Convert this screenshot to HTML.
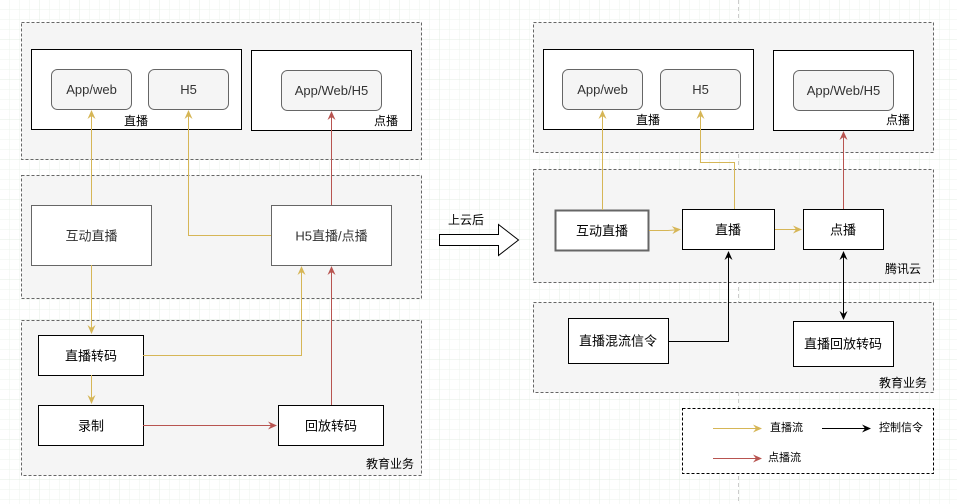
<!DOCTYPE html>
<html><head><meta charset="utf-8"><style>
html,body{margin:0;padding:0;background:#fff;}
svg{display:block;font-family:"Liberation Sans","Noto Sans CJK SC",sans-serif;}
</style></head><body>
<svg width="957" height="504" viewBox="0 0 957 504" xmlns="http://www.w3.org/2000/svg">
<defs>
<pattern id="g" width="10" height="10" patternUnits="userSpaceOnUse"><path d="M10 0V10M0 10H10" fill="none" stroke="#eef3ee" stroke-width="1"/></pattern>
<pattern id="G" width="40" height="40" patternUnits="userSpaceOnUse"><rect width="40" height="40" fill="url(#g)"/><path d="M40 0V40M0 40H40" fill="none" stroke="#e3ece3" stroke-width="1"/></pattern>
<marker id="ay" markerWidth="10" markerHeight="10" refX="8" refY="5" orient="auto" markerUnits="userSpaceOnUse"><path d="M0,1 L9,5 L0,9 L3,5 Z" fill="#d6b656"/></marker>
<marker id="ar" markerWidth="10" markerHeight="10" refX="8" refY="5" orient="auto" markerUnits="userSpaceOnUse"><path d="M0,1 L9,5 L0,9 L3,5 Z" fill="#b85450"/></marker>
<marker id="ab" markerWidth="10" markerHeight="10" refX="8" refY="5" orient="auto" markerUnits="userSpaceOnUse"><path d="M0,1 L9,5 L0,9 L3,5 Z" fill="#000"/></marker>
<marker id="abs" markerWidth="10" markerHeight="10" refX="2" refY="5" orient="auto" markerUnits="userSpaceOnUse"><path d="M10,1 L1,5 L10,9 L7,5 Z" fill="#000"/></marker>
</defs>
<rect width="957" height="504" fill="url(#G)"/>
<line x1="738.5" y1="0" x2="738.5" y2="504" stroke="#ccc" stroke-dasharray="4 3"/>

<g fill="#f5f5f5" stroke="#666" stroke-dasharray="3 2">
<rect x="21.5" y="22.5" width="400" height="137"/>
<rect x="21.5" y="175.5" width="400" height="123"/>
<rect x="21.5" y="320.5" width="400" height="155"/>
<rect x="533.5" y="22.5" width="400" height="130"/>
<rect x="533.5" y="169.5" width="400" height="113"/>
<rect x="533.5" y="302.5" width="400" height="90"/>
</g>
<rect x="682.5" y="408.5" width="251" height="65" fill="#fff" stroke="#000" stroke-dasharray="3 2"/>

<g fill="#fff" stroke="#000" stroke-width="1">
<rect x="31.5" y="49.5" width="210" height="80"/>
<rect x="251.5" y="50.5" width="160" height="80"/>
<rect x="543.5" y="49.5" width="210" height="80"/>
<rect x="773.5" y="50.5" width="140" height="80"/>
<rect x="38.5" y="335.5" width="105" height="40"/>
<rect x="38.5" y="405.5" width="105" height="40"/>
<rect x="278.5" y="405.5" width="105" height="40"/>
<rect x="682.5" y="209.5" width="92" height="40"/>
<rect x="803.5" y="209.5" width="80" height="40"/>
<rect x="568.5" y="318.5" width="100" height="45"/>
<rect x="793.5" y="321.5" width="100" height="45"/>
</g>
<g fill="#fff" stroke="#666">
<rect x="31.5" y="205.5" width="120" height="60"/>
<rect x="271.5" y="205.5" width="120" height="60"/>
<rect x="555.5" y="210.5" width="93" height="40" stroke-width="2"/>
</g>
<g fill="#f5f5f5" stroke="#666">
<rect x="51.5" y="69.5" width="80" height="40" rx="6"/>
<rect x="148.5" y="69.5" width="80" height="40" rx="6"/>
<rect x="281.5" y="70.5" width="100" height="40" rx="6"/>
<rect x="562.5" y="69.5" width="80" height="40" rx="6"/>
<rect x="660.5" y="69.5" width="80" height="40" rx="6"/>
<rect x="793.5" y="70.5" width="100" height="40" rx="6"/>
</g>

<g fill="none" stroke-width="1">
<path d="M91.5 205V111" stroke="#d6b656" marker-end="url(#ay)"/>
<path d="M271 235.5H188.5V111" stroke="#d6b656" marker-end="url(#ay)"/>
<path d="M331.5 205V112" stroke="#b85450" marker-end="url(#ar)"/>
<path d="M91.5 265V333" stroke="#d6b656" marker-end="url(#ay)"/>
<path d="M143 355.5H301.5V267" stroke="#d6b656" marker-end="url(#ay)"/>
<path d="M331.5 405V267" stroke="#b85450" marker-end="url(#ar)"/>
<path d="M91.5 375V403" stroke="#d6b656" marker-end="url(#ay)"/>
<path d="M143 425.5H276" stroke="#b85450" marker-end="url(#ar)"/>

<path d="M602.5 210V111" stroke="#d6b656" marker-end="url(#ay)"/>
<path d="M734.5 209V162.5H700.5V111" stroke="#d6b656" marker-end="url(#ay)"/>
<path d="M649 230.5H668L680 229.5" stroke="#d6b656" marker-end="url(#ay)"/>
<path d="M775 229.5H801" stroke="#d6b656" marker-end="url(#ay)"/>
<path d="M843.5 209V132" stroke="#b85450" marker-end="url(#ar)"/>
<path d="M668 341.5H728.5V252" stroke="#000" marker-end="url(#ab)"/>
<path d="M843.5 252V319" stroke="#000" marker-end="url(#ab)" marker-start="url(#abs)"/>

<path d="M713 428.5H761" stroke="#d6b656" marker-end="url(#ay)"/>
<path d="M822 428.5H870" stroke="#000" marker-end="url(#ab)"/>
<path d="M713 458.5H761" stroke="#b85450" marker-end="url(#ar)"/>
</g>
<path d="M439.5 234.5H498.5V224.5L518.5 240L498.5 255.5V245.5H439.5Z" fill="#fff" stroke="#000"/>

<g font-size="13" fill="#333" text-anchor="middle" dominant-baseline="central">
<text x="91.5" y="89.5">App/web</text>
<text x="188.5" y="89.5">H5</text>
<text x="331.5" y="90.5">App/Web/H5</text>
<text x="602.5" y="89.5">App/web</text>
<text x="700.5" y="89.5">H5</text>
<text x="843.5" y="90.5">App/Web/H5</text>
<text x="91.5" y="236">互动直播</text>
<text x="331.5" y="236">H5直播/点播</text>
</g>
<g font-size="13" fill="#000" text-anchor="middle" dominant-baseline="central">
<text x="91" y="356">直播转码</text>
<text x="91" y="426">录制</text>
<text x="331" y="426">回放转码</text>
<text x="602" y="231">互动直播</text>
<text x="728" y="230">直播</text>
<text x="843" y="230">点播</text>
<text x="618" y="341">直播混流信令</text>
<text x="843" y="344">直播回放转码</text>
</g>
<g font-size="12" fill="#000" text-anchor="middle" dominant-baseline="central">
<text x="136" y="121">直播</text>
<text x="386" y="121">点播</text>
<text x="390" y="464">教育业务</text>
<text x="466" y="220">上云后</text>
<text x="648" y="120">直播</text>
<text x="898" y="120">点播</text>
<text x="903" y="269">腾讯云</text>
<text x="903" y="383">教育业务</text>
</g>
<g font-size="11" fill="#000" dominant-baseline="central">
<text x="770" y="428">直播流</text>
<text x="879" y="428">控制信令</text>
<text x="768" y="458">点播流</text>
</g>
</svg>
</body></html>
